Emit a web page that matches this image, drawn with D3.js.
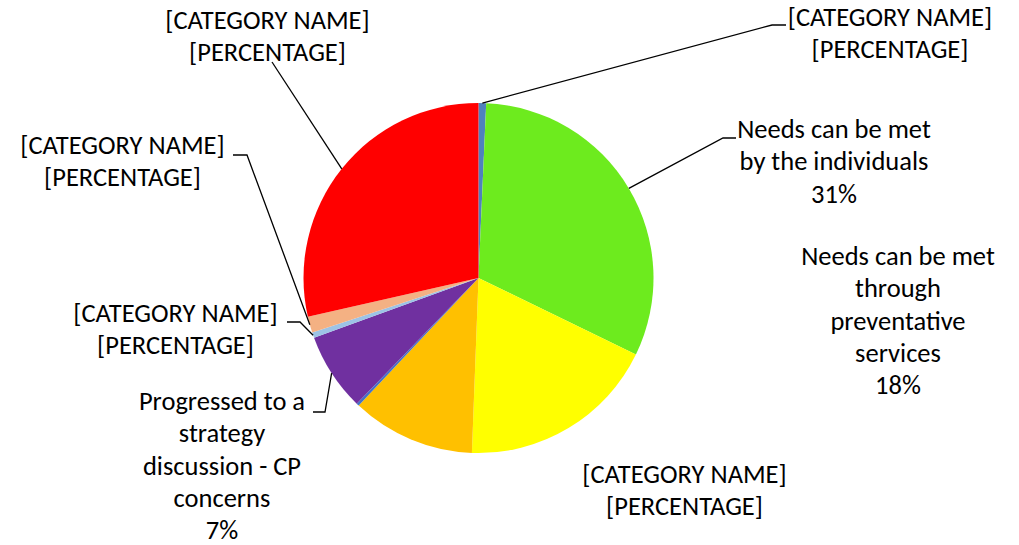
<!DOCTYPE html>
<html>
<head>
<meta charset="utf-8">
<script src="https://cdn.jsdelivr.net/npm/d3@7"></script>
<style>
  html, body { margin: 0; padding: 0; background: #fff; }
  svg { display: block; }
  text { font-family: Carlito, Calibri, Lato, "Open Sans", sans-serif; fill: #000; }
</style>
</head>
<body>
<svg id="chart" width="1019" height="545"></svg>
<script>
// ---- data ----
const categories = ["Blue (top)", "Needs can be met by the individuals", "Needs can be met through preventative services",
  "Orange", "Dark blue", "Progressed to a strategy discussion - CP concerns", "Light blue", "Salmon", "Red"];
const values = [0.7, 31.5, 18.4, 11.4, 0.25, 7.2, 0.5, 1.5, 28.55];
const colors = ["#4F81BD", "#6DEB1E", "#FFFF00", "#FFC000", "#4472C4", "#7030A0", "#9DC3E6", "#F4B183", "#FF0000"];
const labelLines = [
  ["[CATEGORY NAME]", "[PERCENTAGE]"],
  ["Needs can be met", "by the individuals", "31%"],
  ["Needs can be met", "through", "preventative", "services", "18%"],
  ["[CATEGORY NAME]", "[PERCENTAGE]"],
  [],
  ["Progressed to a", "strategy", "discussion - CP", "concerns", "7%"],
  ["[CATEGORY NAME]", "[PERCENTAGE]"],
  ["[CATEGORY NAME]", "[PERCENTAGE]"],
  ["[CATEGORY NAME]", "[PERCENTAGE]"]
];

// ---- layout ----
const cx = 478.5, cy = 278, R = 175;
const fontSize = 26.5, lineH = 32.3;
// label centre x, first baseline y, leader elbow (x,y) and horizontal end x (null = none)
const labelPos = [
  {x: 890, y: 26, elbow: [772, 25], end: 786},
  {x: 834, y: 138, elbow: [723, 138], end: 736},
  {x: 898, y: 265, elbow: null},
  {x: 684.5, y: 482.5, elbow: null},
  null,
  {x: 222, y: 410, elbow: [325, 412], end: 313},
  {x: 175.5, y: 321.5, elbow: [300, 322], end: 287},
  {x: 122.5, y: 153.5, elbow: [247, 155], end: 233},
  {x: 267.5, y: 28.5, elbow: [272, 62], end: null}
];

const svg = d3.select("#chart");
const pie = d3.pie().sort(null).value(d => d)(values);
const arc = d3.arc().innerRadius(0).outerRadius(R);

const g = svg.append("g").attr("transform", `translate(${cx},${cy})`);
g.selectAll("path.slice").data(pie).join("path")
  .attr("class", "slice")
  .attr("d", arc)
  .attr("fill", (d, i) => colors[i]);

// leader lines
pie.forEach((d, i) => {
  const p = labelPos[i];
  if (!p || !p.elbow) return;
  const a = (d.startAngle + d.endAngle) / 2;
  const sx = cx + R * Math.sin(a), sy = cy - R * Math.cos(a);
  const pts = [[sx, sy], p.elbow];
  if (p.end !== null) pts.push([p.end, p.elbow[1]]);
  svg.append("path")
    .attr("d", d3.line()(pts))
    .attr("fill", "none")
    .attr("stroke", "#000")
    .attr("stroke-width", 1.3);
});

// labels
labelLines.forEach((lines, i) => {
  const p = labelPos[i];
  if (!p) return;
  const t = svg.append("text")
    .attr("text-anchor", "middle")
    .attr("font-size", fontSize);
  lines.forEach((s, k) => {
    t.append("tspan").attr("x", p.x).attr("y", p.y + k * lineH).text(s);
  });
});
</script>
</body>
</html>
